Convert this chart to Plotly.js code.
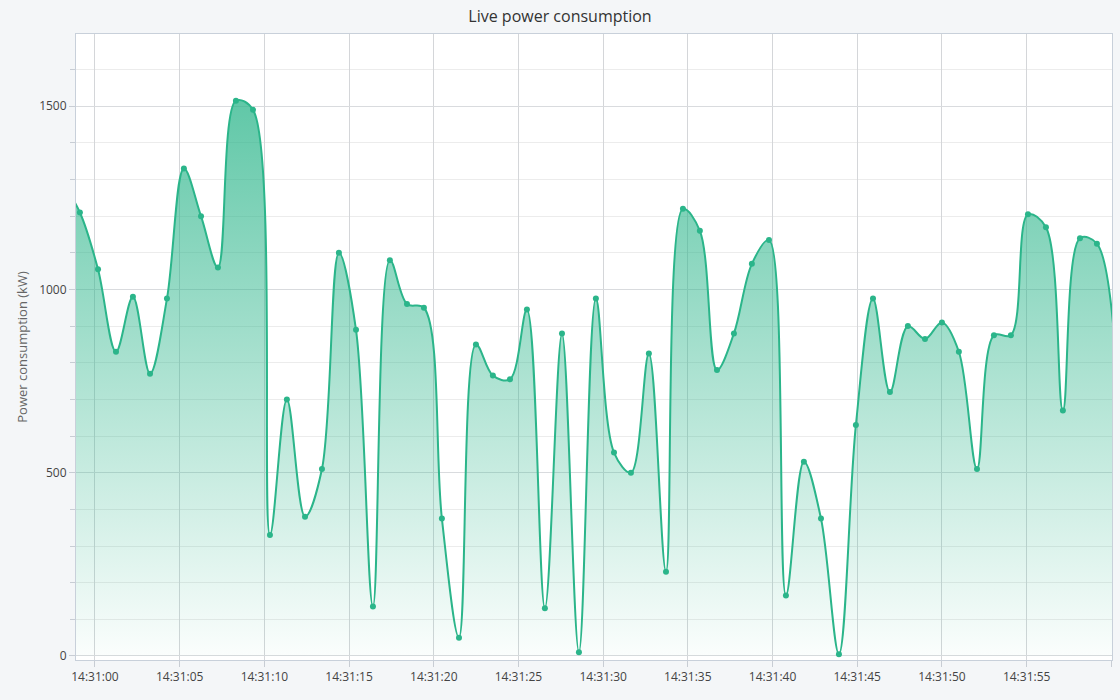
<!DOCTYPE html>
<html>
<head>
<meta charset="utf-8">
<script src="https://cdn.plot.ly/plotly-3.0.1.min.js"></script>
<style>html,body{margin:0;padding:0;background:#f4f6f8;} #graph{width:1120px;height:700px;}</style>
</head>
<body>
<div id="graph"></div>
<script>
// seconds after 14:31:00 for each reading
const seconds = [-1.9, -0.89, 0.18, 1.24, 2.24, 3.25, 4.25, 5.25, 6.26, 7.26, 8.32, 9.33, 10.33, 11.33, 12.40, 13.40,
    14.40, 15.41, 16.41, 17.41, 18.42, 19.42, 20.48, 21.49, 22.49, 23.49, 24.50, 25.50, 26.56, 27.57, 28.57,
    29.57, 30.64, 31.64, 32.70, 33.71, 34.71, 35.71, 36.72, 37.72, 38.78, 39.79, 40.79, 41.85, 42.86, 43.92,
    44.92, 45.93, 46.93, 47.99, 49.00, 50.00, 51.00, 52.07, 53.07, 54.07, 55.08, 56.14, 57.14, 58.15, 59.15, 60.4];
const power = [1290, 1210, 1055, 830, 980, 770, 975, 1330, 1200, 1060, 1515, 1490, 330, 700, 380, 510,
    1100, 890, 135, 1080, 960, 950, 375, 50, 850, 765, 755, 945, 130, 880, 10,
    975, 555, 500, 825, 230, 1220, 1160, 780, 880, 1070, 1135, 165, 530, 375, 5,
    630, 975, 720, 900, 865, 910, 830, 510, 875, 875, 1205, 1170, 670, 1140, 1125, 700];
const base = new Date(2024, 0, 1, 14, 31, 0).getTime();

function stamp(s) {
    const d = new Date(base + s * 1000);
    const p = (n, w) => String(n).padStart(w || 2, "0");
    return `2024-01-01 ${p(d.getHours())}:${p(d.getMinutes())}:${p(d.getSeconds())}.${p(d.getMilliseconds(), 3)}`;
}
const times = seconds.map(stamp);
const green = "#2bb58a";

const trace = {x: times, y: power, mode: "lines+markers", line: {shape: "spline", smoothing: 1, color: green, width: 2},
    marker: {color: green, size: 6}, fill: "tozeroy",
    fillgradient: {type: "vertical", colorscale: [[0, "rgba(43,181,138,0.02)"], [1, "rgba(43,181,138,0.75)"]]},
    hoverinfo: "x+y"};

const layout = {width: 1120, height: 700, paper_bgcolor: "#f4f6f8", plot_bgcolor: "#ffffff",
    margin: {t: 34, l: 76, r: 8, b: 40}, showlegend: false,
    font: {family: "Open Sans, sans-serif", color: "#444", size: 12},
    title: {text: "Live power consumption", x: 0.5, y: 0.985, yanchor: "top", font: {size: 16, color: "#333"}},
    xaxis: {type: "date", range: [stamp(-1.12), stamp(60.04)], tickformat: "%H:%M:%S", dtick: 5000,
        tick0: "2024-01-01 14:31:00", ticks: "outside", ticklen: 6, tickcolor: "#c8cdd4",
        gridcolor: "#d4d6d9", showline: true, linecolor: "#c8d0da", mirror: true, zeroline: false},
    yaxis: {range: [-11, 1697], dtick: 500, ticks: "outside", ticklen: 6, tickcolor: "#c8cdd4",
        gridcolor: "#d9dbde", showline: true, linecolor: "#c8d0da", mirror: true, zeroline: false,
        minor: {dtick: 100, showgrid: true, gridcolor: "#ececec", ticks: "outside", ticklen: 5, tickcolor: "#c8cdd4"},
        title: {text: "Power consumption (kW)", font: {size: 13, color: "#666"}, standoff: 8}}};

Plotly.newPlot("graph", [trace], layout, {displayModeBar: false, staticPlot: true});
</script>
</body>
</html>
